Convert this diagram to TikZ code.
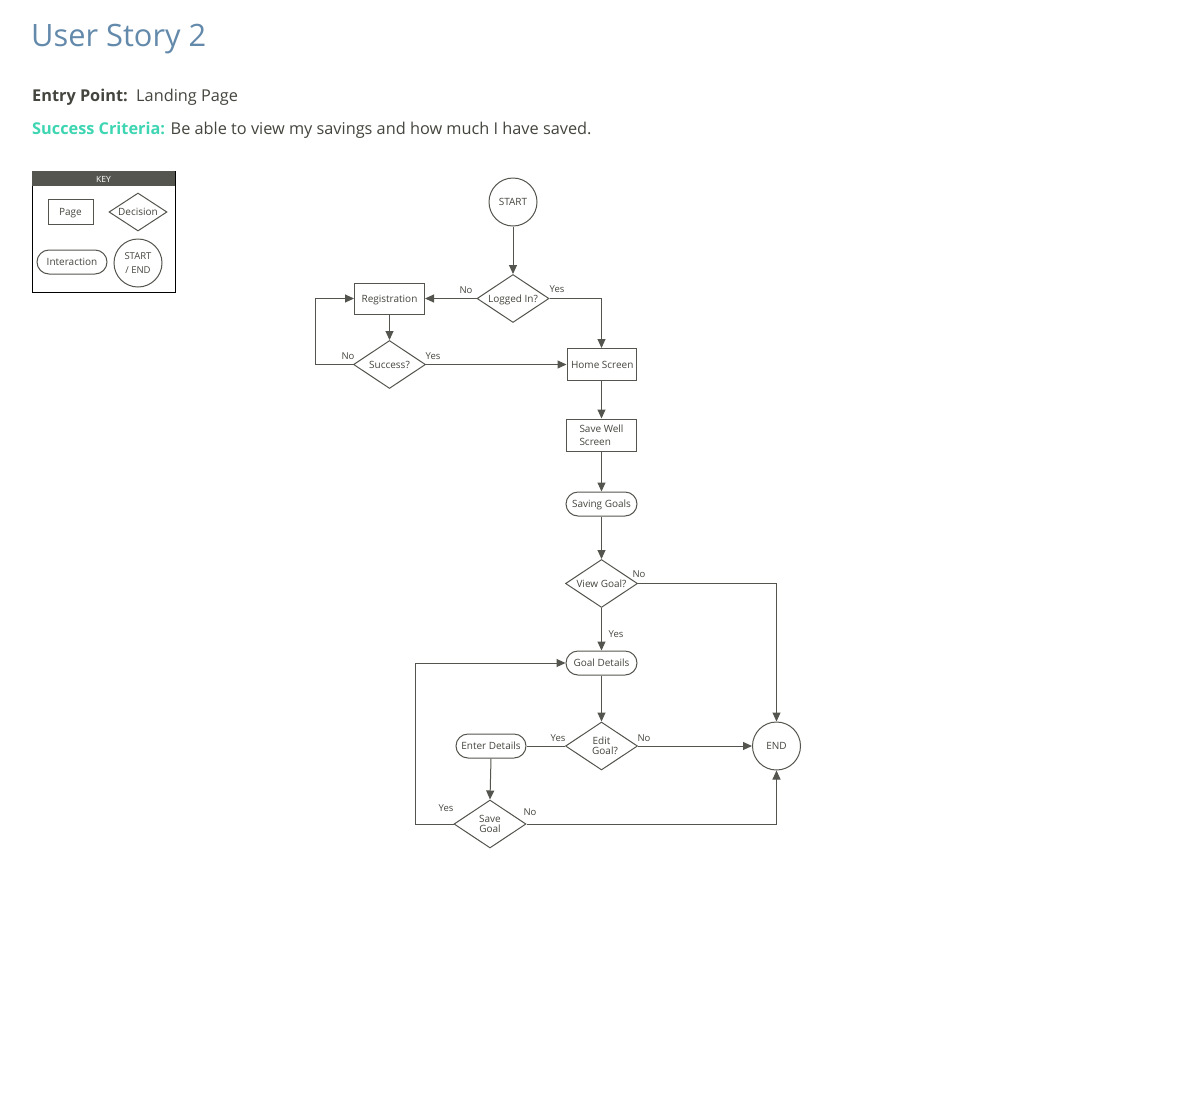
\documentclass[tikz,border=0pt]{standalone}
\usepackage{fontspec}
\setmainfont{Open Sans}
\usetikzlibrary{shapes.geometric,arrows.meta}
\definecolor{ln}{HTML}{55554F}
\definecolor{txt}{HTML}{45453F}
\definecolor{ttl}{HTML}{6389AB}
\definecolor{grn}{HTML}{3ED6B2}
\begin{document}
\begin{tikzpicture}[x=1pt,y=-1pt,
  every node/.style={font=\fontsize{10}{13}\selectfont, text=txt},
  oneline/.style={text height=7.4pt, text depth=0.4pt},
  pagebox/.style={draw=ln, line width=1pt, minimum width=70pt, minimum height=31pt, inner sep=0pt, rectangle},
  pill/.style={draw=ln, line width=1pt, minimum width=71pt, minimum height=24pt, inner sep=0pt, rounded corners=12pt, rectangle, oneline},
  deci/.style={draw=ln, line width=1pt, diamond, aspect=1.5, minimum width=72pt, minimum height=48pt, inner sep=0pt, align=center, font=\fontsize{10}{10.5}\selectfont},
  term/.style={draw=ln, line width=1pt, circle, minimum size=48pt, inner sep=0pt, align=center},
  lbl/.style={font=\fontsize{9.5}{11}\selectfont, inner sep=0pt},
  conn/.style={draw=ln, line width=1pt},
  arr/.style={conn, -{Triangle[width=8pt,length=9pt]}}
]
\useasboundingbox (0,0) rectangle (1200,1117);
\fill[white] (0,0) rectangle (1200,1117);

% header texts
\node[anchor=base west, inner sep=0pt, font=\fontsize{30.8}{36}\selectfont, text=ttl] (title) at (31,46) {User Story 2};
\node[anchor=base west, inner sep=0pt, font=\fontsize{16.3}{20}\selectfont] (entry) at (32,101) {\textbf{Entry Point:}\ \ Landing Page};
\node[anchor=base west, inner sep=0pt, font=\fontsize{16.3}{20}\selectfont] (crit) at (32,134) {\textcolor{grn}{\textbf{Success Criteria:}} Be able to view my savings and how much I have saved.};

% key
\draw[line width=1pt, black] (32,171) rectangle (175,292);
\fill[ln] (32,171) rectangle (175,186);
\node[font=\fontsize{8.5}{9}\selectfont, text=white, inner sep=0pt] (keyt) at (103.5,179) {KEY};
\node[pagebox, oneline, minimum width=45pt, minimum height=25pt] (kpage) at (70.5,211.5) {Page};
\node[deci, oneline, minimum width=58pt, minimum height=38pt] (kdec) at (138,212) {Decision};
\node[pill, minimum width=70pt] (kint) at (72,262) {Interaction};
\node[term, font=\fontsize{9.5}{14}\selectfont] (kterm) at (138,263) {START\\/ END};

% flow nodes
\node[term, oneline] (start) at (513,202) {START};
\node[deci, oneline] (logged) at (513,298.5) {Logged In?};
\node[pagebox, oneline] (reg) at (389.5,298.5) {Registration};
\node[deci, oneline] (succ) at (389.5,364.5) {Success?};
\node[pagebox, oneline, minimum width=69pt, minimum height=32pt] (home) at (601.5,364.5) {\hspace*{1.5pt}Home Screen};
\node[pagebox, minimum height=32pt, align=left] (savewell) at (601.5,435) {Save Well\\Screen};
\node[pill] (savgoals) at (601.5,504) {Saving Goals};
\node[deci, oneline] (view) at (601.5,583.5) {View Goal?};
\node[pill] (gdet) at (601.5,663) {Goal Details};
\node[deci] (edit) at (601.5,746) {Edit\\[-0.5pt]\hspace*{7pt}Goal?};
\node[term, oneline] (end) at (776.5,746) {END};
\node[pill, minimum width=70pt] (enter) at (491,746) {Enter Details};
\node[deci] (save) at (490,824) {Save\\Goal};

% connectors
\draw[arr] (start) -- (logged);
\draw[arr] (logged.west) -- (reg.east);
\draw[arr] (logged.east) -| (home.north);
\draw[arr] (reg.south) -- (succ.north);
\draw[arr] (succ.west) -- ++(-38,0) |- (reg.west);
\draw[arr] (succ.east) -- (home.west);
\draw[arr] (home) -- (savewell);
\draw[arr] (savewell) -- (savgoals);
\draw[arr] (savgoals) -- (view);
\draw[arr] (view.east) -| (end.north);
\draw[arr] (view) -- (gdet);
\draw[arr] (gdet) -- (edit);
\draw[conn] (edit.west) -- (enter.east);
\draw[arr] (edit.east) -- (end.west);
\draw[arr] (enter.south) -- (save.north);
\draw[arr] (save.west) -- ++(-38,0) |- (gdet.west);
\draw[arr] (save.east) -| (end.south);

% labels
\node[lbl] (l1) at (466,290) {No};
\node[lbl] (l2) at (557,289) {Yes};
\node[lbl] (l3) at (348,356) {No};
\node[lbl] (l4) at (433,356) {Yes};
\node[lbl] (l5) at (639,574) {No};
\node[lbl] (l6) at (616,634) {Yes};
\node[lbl] (l7) at (558,738) {Yes};
\node[lbl] (l8) at (644,738) {No};
\node[lbl] (l9) at (446,808) {Yes};
\node[lbl] (l10) at (530,812) {No};
\end{tikzpicture}
\end{document}
